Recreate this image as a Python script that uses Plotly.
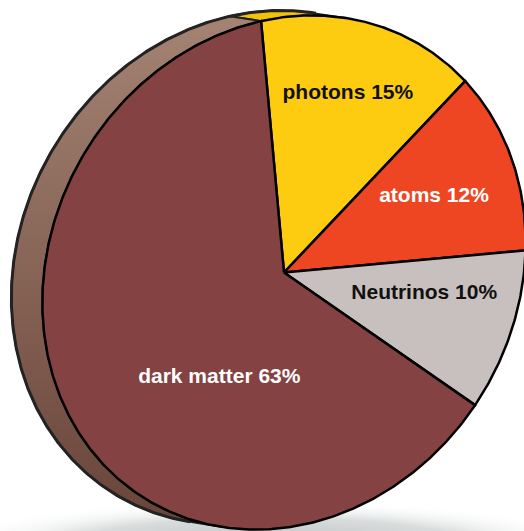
import numpy as np
import plotly.graph_objects as go

# --- data -------------------------------------------------------------
labels = ["photons", "atoms", "Neutrinos", "dark matter"]
shares = [15, 12, 10, 63]

# --- styling ----------------------------------------------------------
face_colors = ["#FDCB0F", "#EE4523", "#C8C0BE", "#844242"]
side_colors = [("#F2C10C", "#F2C10C"), ("#C9381C", "#9E2A14"),
               ("#A89F9C", "#8A817E"), ("#A58474", "#694539")]  # (top, bottom)
text_colors = ["#111111", "#FFFFFF", "#111111", "#FFFFFF"]
label_place = [(0.72, 0.0), (0.66, 0.0), (0.60, -5.0), (0.465, -26.0)]  # (radius, angle shift)

W, H = 524, 531

# tilted disc: face is an ellipse, the rim is the face pushed back by DEPTH
CX, CY = 284.0, 272.5
A_MINOR, A_MAJOR = 232.5, 265.4
TILT = np.radians(31.0)
START = np.radians(230.1)
DEPTH = np.array([-31.0, -5.0])

e1 = np.array([np.cos(TILT), np.sin(TILT)])
e2 = np.array([-np.sin(TILT), np.cos(TILT)])


def rim(theta, offset=(0.0, 0.0), scale=1.0):
    theta = np.asarray(theta, dtype=float)
    c, s = np.cos(theta), np.sin(theta)
    x = CX + offset[0] + scale * (A_MINOR * c * e1[0] + A_MAJOR * s * e2[0])
    y = CY + offset[1] + scale * (A_MINOR * c * e1[1] + A_MAJOR * s * e2[1])
    return x, H - y          # flip to y-up axis units


def arc(t0, t1, offset=(0.0, 0.0)):
    n = max(int(abs(t1 - t0) / (2 * np.pi) * 720), 8)
    return rim(np.linspace(t0, t1, n), offset)


fractions = np.array(shares, dtype=float) / np.sum(shares)
bounds = START + 2 * np.pi * np.concatenate([[0.0], np.cumsum(fractions)])

# part of the rim that faces the viewer (outward normal along DEPTH)
w = np.array([e1 @ DEPTH / A_MINOR, e2 @ DEPTH / A_MAJOR])
phi = np.arctan2(w[1], w[0])
vis0, vis1 = phi - np.pi / 2, phi + np.pi / 2

fig = go.Figure()

# soft floor shadow
sh_t = np.linspace(0, 2 * np.pi, 200)
fig.add_trace(go.Scatter(
    x=270 + 330 * np.cos(sh_t), y=H - (545 + 45 * np.sin(sh_t)),
    mode="lines", line=dict(width=0, color="rgba(0,0,0,0)"),
    fill="toself",
    fillgradient=dict(type="radial",
                      colorscale=[[0, "#BBBFBF"], [0.6, "#D9DCDC"], [1, "rgba(255,255,255,0)"]]),
    hoverinfo="skip", showlegend=False))

# rim (side) pieces of every slice
for i in range(len(shares)):
    a, b = bounds[i], bounds[i + 1]
    for k in range(-2, 3):
        lo = max(a, vis0 + 2 * np.pi * k)
        hi = min(b, vis1 + 2 * np.pi * k)
        if hi - lo <= 1e-6:
            continue
        fx, fy = arc(lo, hi)
        bx, by = arc(hi, lo, DEPTH)
        xs = np.concatenate([fx, bx, fx[:1]])
        ys = np.concatenate([fy, by, fy[:1]])
        top, bottom = side_colors[i]
        fig.add_trace(go.Scatter(
            x=xs, y=ys, mode="lines",
            line=dict(color="#1E1E1E", width=2.0),
            fill="toself",
            fillgradient=dict(type="vertical", start=H - 525, stop=H - 8,
                              colorscale=[[0, bottom], [1, top]]),
            hoverinfo="skip", showlegend=False))

# outer silhouette of the back edge
ox, oy = arc(vis0, vis1, DEPTH)
fig.add_trace(go.Scatter(x=ox, y=oy, mode="lines",
                         line=dict(color="#232323", width=3.0),
                         hoverinfo="skip", showlegend=False))

# face slices
for i in range(len(shares)):
    ax_, ay_ = arc(bounds[i], bounds[i + 1])
    cx0, cy0 = rim(0.0, scale=0.0)
    xs = np.concatenate([[cx0], ax_, [cx0]])
    ys = np.concatenate([[cy0], ay_, [cy0]])
    fig.add_trace(go.Scatter(
        x=xs, y=ys, mode="lines", fill="toself",
        fillcolor=face_colors[i],
        line=dict(color="#000000", width=2.5),
        hoverinfo="skip", showlegend=False))

# slice labels
for i in range(len(shares)):
    r, shift = label_place[i]
    mid = (bounds[i] + bounds[i + 1]) / 2 + np.radians(shift)
    lx, ly = rim(mid, scale=r)
    fig.add_trace(go.Scatter(
        x=[lx], y=[ly], mode="text",
        text=[f"{labels[i]} {shares[i]}%"],
        textposition="middle center",
        textfont=dict(family="Liberation Sans, Arial, sans-serif", size=21,
                      color=text_colors[i], weight="bold"),
        hoverinfo="skip", showlegend=False))

fig.update_layout(
    width=W, height=H,
    margin=dict(l=0, r=0, t=0, b=0),
    paper_bgcolor="white", plot_bgcolor="white",
    xaxis=dict(range=[0, W], visible=False, fixedrange=True),
    yaxis=dict(range=[0, H], visible=False, fixedrange=True),
    showlegend=False, hovermode=False,
)

fig.write_html("out.html")
